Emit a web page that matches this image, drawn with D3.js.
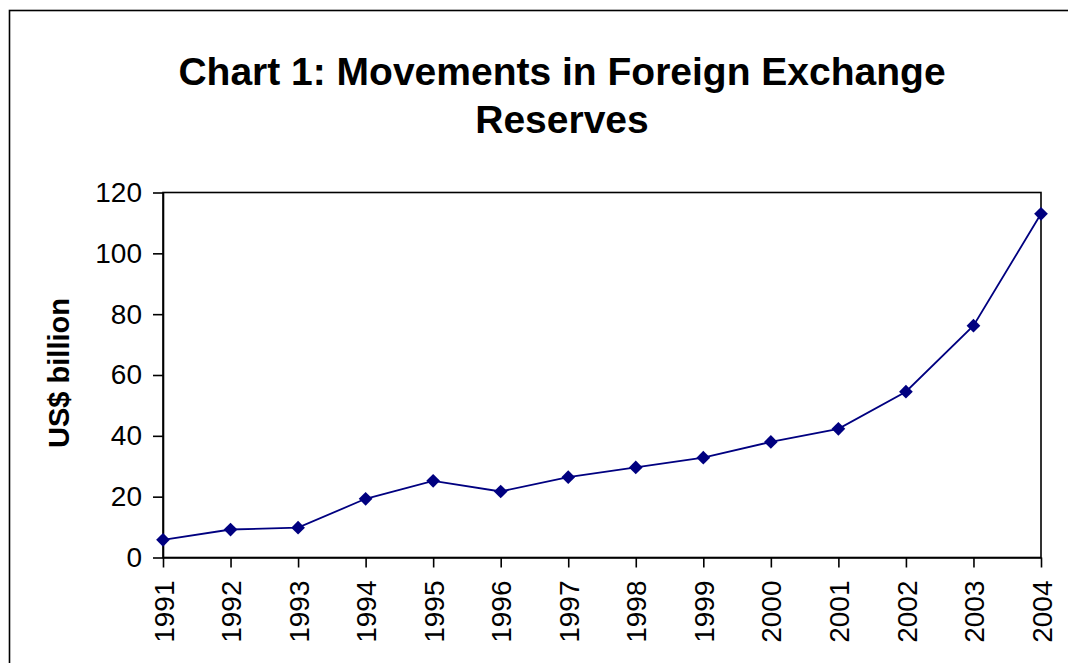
<!DOCTYPE html>
<html>
<head>
<meta charset="utf-8">
<script src="https://cdn.jsdelivr.net/npm/d3@7.9.0/dist/d3.min.js"></script>
<style>
  html, body { margin: 0; padding: 0; background: #fff; }
  svg { display: block; font-family: Arial, "Liberation Sans", sans-serif; }
</style>
</head>
<body>
<svg id="chart" width="1068" height="663"></svg>
<script>
const years = ['1991', '1992', '1993', '1994', '1995', '1996', '1997',
               '1998', '1999', '2000', '2001', '2002', '2003', '2004'];
const reserves = [5.8, 9.2, 9.8, 19.3, 25.2, 21.7, 26.4,
                  29.6, 32.8, 38.0, 42.3, 54.5, 76.2, 113.0];
const yTicks = [0, 20, 40, 60, 80, 100, 120];
const titleLines = ['Chart 1: Movements in Foreign Exchange', 'Reserves'];
const yLabel = 'US$ billion';

const svg = d3.select('#chart');
const plot = { left: 163, right: 1041, top: 192.5, bottom: 557.5 };
const navy = '#000080';

// outer chart frame (runs off the bottom/right of the picture)
svg.append('rect')
  .attr('x', 9.5).attr('y', 10.5)
  .attr('width', 1200).attr('height', 800)
  .attr('fill', 'none').attr('stroke', '#000').attr('stroke-width', 1.6);

const x = d3.scalePoint().domain(years).range([plot.left, plot.right]);
const y = d3.scaleLinear().domain([0, 120]).range([plot.bottom, plot.top]);

// title
svg.append('text')
  .attr('text-anchor', 'middle')
  .attr('font-size', 39).attr('font-weight', 'bold')
  .selectAll('tspan')
  .data(titleLines)
  .join('tspan')
  .attr('x', 562)
  .attr('y', (d, i) => 85 + i * 48)
  .text(d => d);

// plot area border
svg.append('rect')
  .attr('x', plot.left).attr('y', plot.top)
  .attr('width', plot.right - plot.left).attr('height', plot.bottom - plot.top)
  .attr('fill', 'none').attr('stroke', '#000').attr('stroke-width', 1.6);

const yAxis = svg.append('g')
  .attr('transform', `translate(${plot.left},0)`)
  .call(d3.axisLeft(y).tickValues(yTicks).tickSize(10).tickSizeOuter(0).tickPadding(11));

const xAxis = svg.append('g')
  .attr('transform', `translate(0,${plot.bottom})`)
  .call(d3.axisBottom(x).tickSize(10).tickSizeOuter(0));

[yAxis, xAxis].forEach(g => {
  g.selectAll('path, line').attr('stroke', '#000').attr('stroke-width', 1.6);
  g.selectAll('text')
    .attr('fill', '#000')
    .attr('font-family', 'Arial, "Liberation Sans", sans-serif')
    .attr('font-size', 28);
});

xAxis.selectAll('text')
  .attr('transform', 'rotate(-90)')
  .attr('text-anchor', 'end')
  .attr('x', -23)
  .attr('y', 0)
  .attr('dy', '0.36em');

// axis title
svg.append('text')
  .attr('transform', 'translate(69,373) rotate(-90)')
  .attr('text-anchor', 'middle')
  .attr('font-size', 29).attr('font-weight', 'bold')
  .text(yLabel);

const series = years.map((yr, i) => ({ year: yr, value: reserves[i] }));

const line = d3.line().x(d => x(d.year)).y(d => y(d.value));

svg.append('path')
  .datum(series)
  .attr('d', line)
  .attr('fill', 'none')
  .attr('stroke', navy)
  .attr('stroke-width', 1.8);

svg.append('g')
  .selectAll('path')
  .data(series)
  .join('path')
  .attr('transform', d => `translate(${x(d.year)},${y(d.value)})`)
  .attr('d', d3.symbol(d3.symbolDiamond2, 120))
  .attr('fill', navy);
</script>
</body>
</html>
